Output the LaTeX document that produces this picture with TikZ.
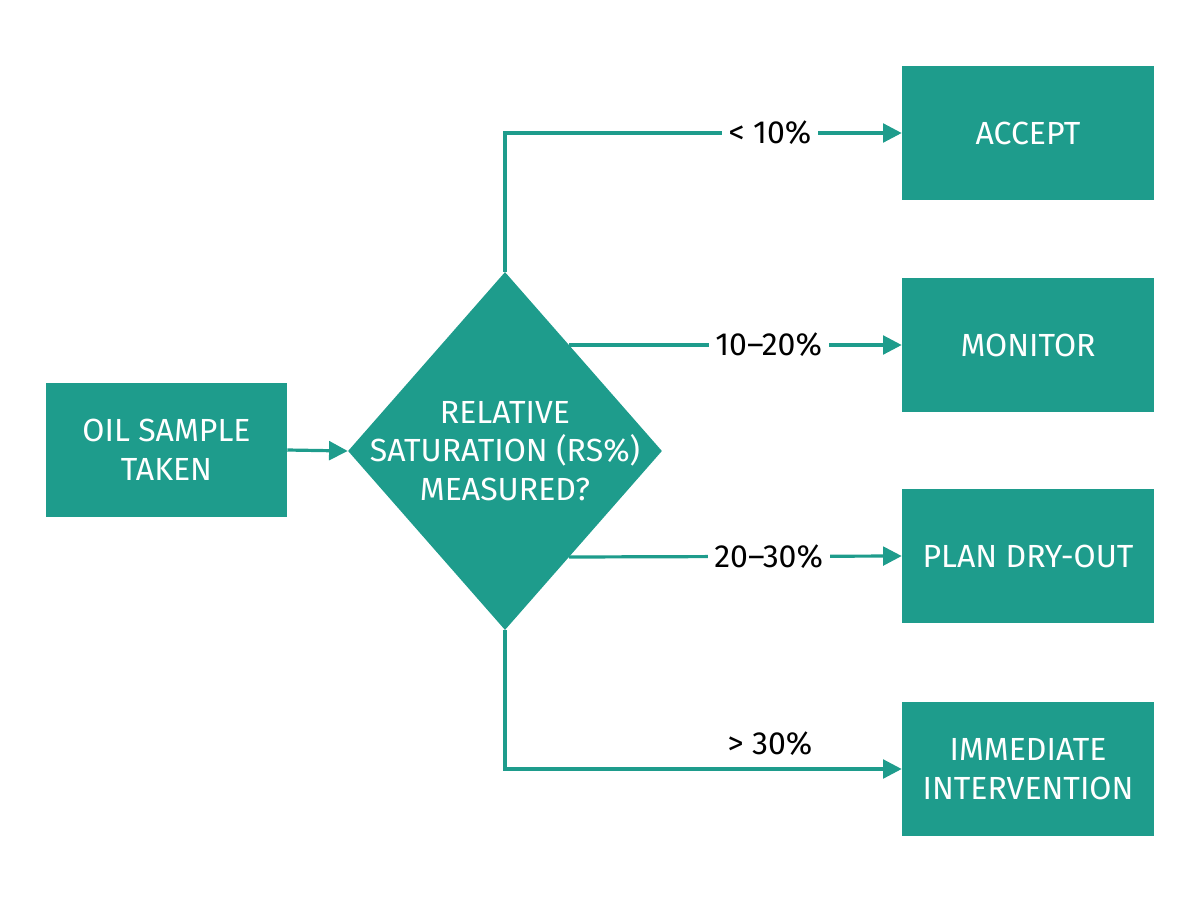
\documentclass[tikz,border=0pt]{standalone}
\usepackage{fontspec}
\setmainfont{Fira Sans}
\usetikzlibrary{shapes.geometric,arrows.meta}
\definecolor{teal1}{HTML}{1E9C8C}
\begin{document}
\begin{tikzpicture}[x=0.75pt,y=-0.75pt,
  box/.style={fill=teal1,draw=none,minimum width=189pt,minimum height=100.5pt,text=white,align=center,font=\fontsize{24}{29}\selectfont,inner sep=0pt},
  ln/.style={draw=teal1,line width=2.4pt},
  ar/.style={ln,-{Triangle[length=14pt,width=14pt]}},
  lab/.style={font=\fontsize{24}{28}\selectfont,text=black,fill=white,inner sep=5pt}]
\useasboundingbox (0,0) rectangle (1200,900);
\node[box,minimum width=180.75pt] (oil) at (166.5,450) {OIL SAMPLE\\TAKEN};
\node[diamond,fill=teal1,minimum width=235.5pt,minimum height=268.5pt,inner sep=0pt] (d) at (505,451) {};
\node[text=white,align=center,font=\fontsize{24}{29}\selectfont] (dt) at (505,451) {RELATIVE\\SATURATION (RS\%)\\MEASURED?};
\node[box] (acc) at (1028,133) {ACCEPT};
\node[box] (mon) at (1028,345) {MONITOR};
\node[box] (plan) at (1028,556) {PLAN DRY-OUT};
\node[box] (imm) at (1028,769) {IMMEDIATE\\INTERVENTION};
\draw[ar] (oil.east) -- (d.west);
\coordinate (m1) at (569,345);
\coordinate (p1) at (569,557);
\draw[ar] (d.north) |- (acc.west) node[lab,pos=0.834] {< 10\%};
\draw[ar] (m1) -- (mon.west) node[lab,pos=0.6] {10–20\%};
\draw[ar] (p1) -- (plan.west) node[lab,pos=0.6] {20–30\%};
\draw[ar] (d.south) |- (imm.west) node[lab,pos=0.834,above=4pt,fill=none] {> 30\%};
\end{tikzpicture}
\end{document}
